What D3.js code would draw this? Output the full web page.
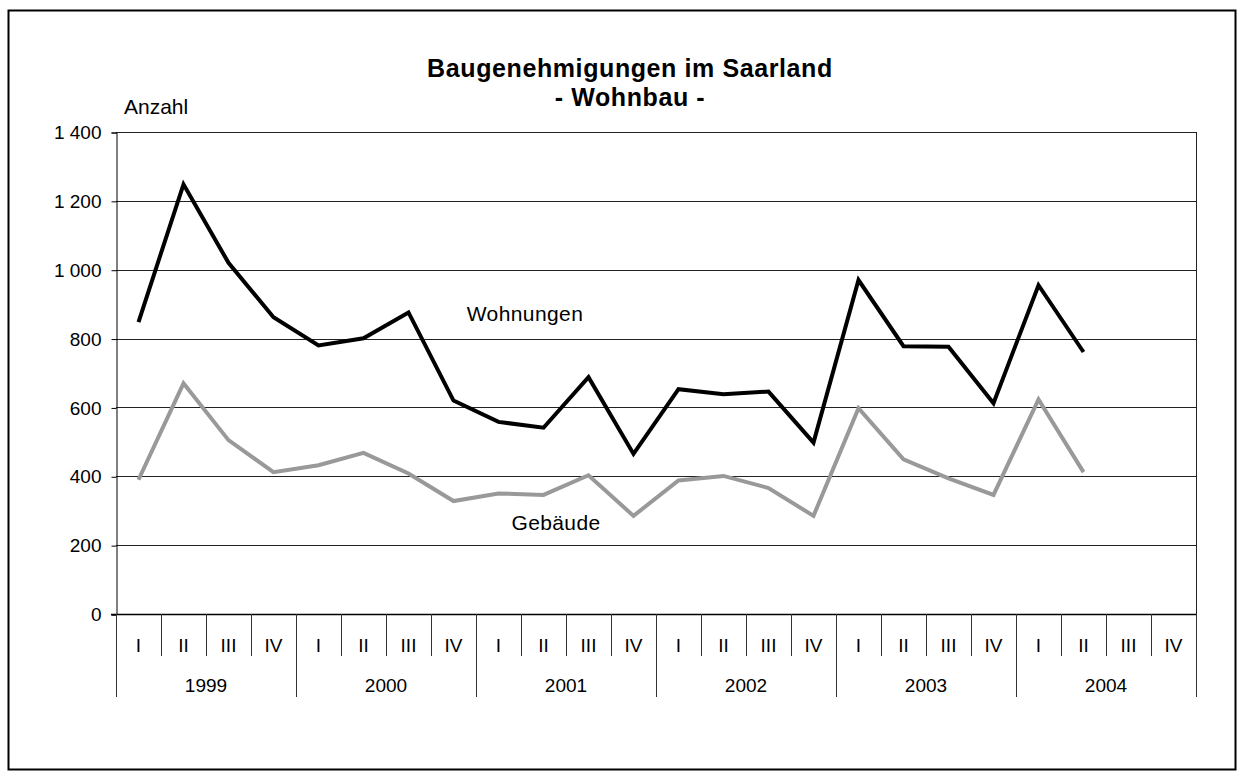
<!DOCTYPE html>
<html><head><meta charset="utf-8">
<script src="https://cdn.jsdelivr.net/npm/d3@7"></script>
<style>body{margin:0;background:#fff}text{font-family:"Liberation Sans",Arial,sans-serif}</style>
</head><body><svg id="c" width="1244" height="778"></svg>
<script>
const years = ["1999","2000","2001","2002","2003","2004"];
const quarters = ["I","II","III","IV"];
const wohnungen = [848,1248,1020,862, 780,801,876,620, 558,541,688,465, 653,638,646,498, 970,778,776,612, 955,761];
const gebaeude = [390,670,505,412, 432,468,408,328, 350,346,403,285, 388,401,366,285, 598,449,394,346, 623,412];
const yTicks = [0,200,400,600,800,1000,1200,1400];
const titleLines = ["Baugenehmigungen im Saarland","- Wohnbau -"];

const svg = d3.select("#c");
const L=116, R=1196, T=132, B=614;
const cats = [];
years.forEach(y=>quarters.forEach(q=>cats.push(y+"-"+q)));
const x = d3.scaleBand().domain(cats).range([L,R]);
const y = d3.scaleLinear().domain([0,1400]).range([B,T]);
const fmt = v => d3.format(",")(v).replace(/,/g," ");

svg.append("rect").attr("x",8.5).attr("y",10.5).attr("width",1227).attr("height",759)
  .attr("fill","#fff").attr("stroke","#000").attr("stroke-width",2);

// gridlines
svg.append("g").selectAll("line").data(yTicks.filter(v=>v>0)).join("line")
  .attr("x1",L).attr("x2",R).attr("y1",d=>Math.round(y(d))+0.5).attr("y2",d=>Math.round(y(d))+0.5)
  .attr("stroke","#222").attr("stroke-width",1);
// plot border right
svg.append("line").attr("x1",R+0.5).attr("x2",R+0.5).attr("y1",T).attr("y2",B).attr("stroke","#222");

// y axis
const ya = d3.axisLeft(y).tickValues(yTicks).tickSize(5).tickPadding(10).tickFormat(fmt);
const yg = svg.append("g").attr("transform",`translate(${L+0.5},0.5)`).call(ya);
yg.select(".domain").attr("stroke","#000");
yg.selectAll(".tick line").attr("stroke","#000");
yg.selectAll("text").attr("font-size",19).attr("fill","#000").attr("font-family","Liberation Sans, Arial, sans-serif");

// x axis baseline
svg.append("line").attr("x1",L-5).attr("x2",R+0.5).attr("y1",B+0.5).attr("y2",B+0.5).attr("stroke","#000").attr("stroke-width",1.5);
// quarter separators
const bw = x.bandwidth();
svg.append("g").selectAll("line").data(cats.slice(1)).join("line")
  .attr("x1",d=>Math.round(x(d))+0.5).attr("x2",d=>Math.round(x(d))+0.5)
  .attr("y1",B).attr("y2",656).attr("stroke","#333");
// year separators
const yearBounds = years.map(yr=>x(yr+"-I")).concat([R]);
svg.append("g").selectAll("line").data(yearBounds).join("line")
  .attr("x1",d=>Math.round(d)+0.5).attr("x2",d=>Math.round(d)+0.5)
  .attr("y1",B).attr("y2",697).attr("stroke","#333");
// quarter labels
svg.append("g").selectAll("text").data(cats).join("text")
  .attr("x",d=>x(d)+bw/2).attr("y",652).attr("text-anchor","middle").attr("font-size",19)
  .text(d=>d.split("-")[1]);
// year labels
svg.append("g").selectAll("text").data(years).join("text")
  .attr("x",d=>x(d+"-I")+bw*2).attr("y",692).attr("text-anchor","middle").attr("font-size",19)
  .text(d=>d);

// lines
const line = d3.line().x((d,i)=>x(cats[i])+bw/2).y(d=>y(d));
svg.append("path").datum(gebaeude).attr("d",line).attr("fill","none").attr("stroke","#999")
  .attr("stroke-width",4).attr("stroke-linejoin","miter");
svg.append("path").datum(wohnungen).attr("d",line).attr("fill","none").attr("stroke","#000")
  .attr("stroke-width",4).attr("stroke-linejoin","miter");

// series labels
svg.append("text").attr("x",525).attr("y",321).attr("text-anchor","middle").attr("font-size",21).attr("letter-spacing",0.4).text("Wohnungen");
svg.append("text").attr("x",556).attr("y",530).attr("text-anchor","middle").attr("font-size",21).attr("letter-spacing",0.4).text("Gebäude");

// titles
svg.append("g").selectAll("text").data(titleLines).join("text")
  .attr("x",630).attr("y",(d,i)=>77+i*29).attr("text-anchor","middle")
  .attr("font-size",25).attr("font-weight","bold").attr("letter-spacing",0.6).text(d=>d);
svg.append("text").attr("x",124).attr("y",114).attr("font-size",21).text("Anzahl");
</script></body></html>
